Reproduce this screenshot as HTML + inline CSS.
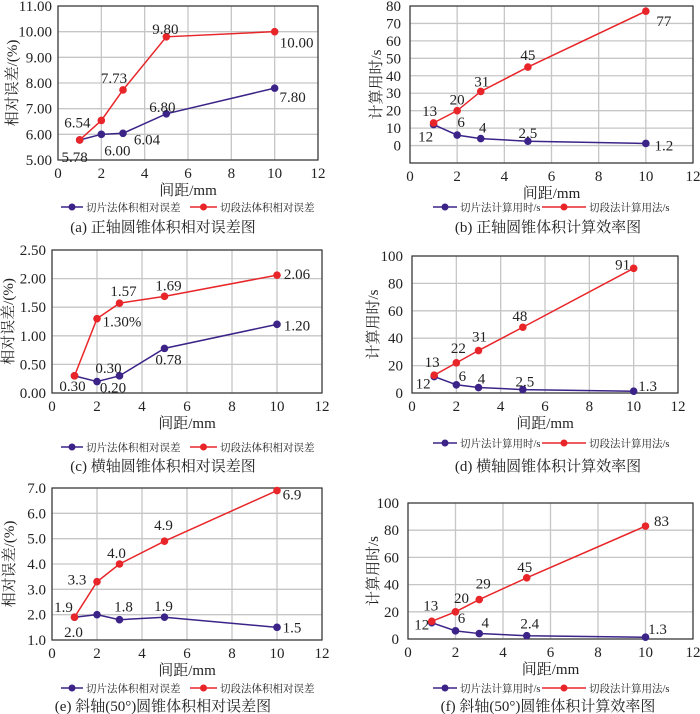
<!DOCTYPE html>
<html><head><meta charset="utf-8"><style>
body{margin:0;background:#fff}
svg{display:block}
text{font-family:"Liberation Serif","Noto Serif CJK SC",serif;fill:#222}
</style></head><body>
<svg id="s" width="700" height="714" viewBox="0 0 700 714" xmlns="http://www.w3.org/2000/svg"></svg>
<script>
const xVals=[1,2,3,5,10];
const xTicks=[0,2,4,6,8,10,12];
const aBlue=[5.78,6.00,6.04,6.80,7.80], aRed=[5.78,6.54,7.73,9.80,10.00];
const aBlueLbl=["5.78","6.00","6.04","6.80","7.80"], aRedLbl=["","6.54","7.73","9.80","10.00"];
const aTicks=[5,6,7,8,9,10,11];
const bBlue=[12,6,4,2.5,1.2], bRed=[13,20,31,45,77];
const bBlueLbl=["12","6","4","2.5","1.2"], bRedLbl=["13","20","31","45","77"];
const bTicks=[-10,0,10,20,30,40,50,60,70,80];
const cBlue=[0.30,0.20,0.30,0.78,1.20], cRed=[0.30,1.30,1.57,1.69,2.06];
const cBlueLbl=["0.30","0.20","0.30","0.78","1.20"], cRedLbl=["","1.30%","1.57","1.69","2.06"];
const cTicks=[0,0.5,1,1.5,2,2.5];
const dBlue=[12,6,4,2.5,1.3], dRed=[13,22,31,48,91];
const dBlueLbl=["12","6","4","2.5","1.3"], dRedLbl=["13","22","31","48","91"];
const dTicks=[0,20,40,60,80,100];
const eBlue=[1.9,2.0,1.8,1.9,1.5], eRed=[1.9,3.3,4.0,4.9,6.9];
const eBlueLbl=["1.9","","1.8","1.9","1.5"], eRedLbl=["2.0","3.3","4.0","4.9","6.9"];
const eTicks=[1,2,3,4,5,6,7];
const fBlue=[12,6,4,2.4,1.3], fRed=[13,20,29,45,83];
const fBlueLbl=["12","6","4","2.4","1.3"], fRedLbl=["13","20","29","45","83"];
const fTicks=[0,20,40,60,80,100];

const NS="http://www.w3.org/2000/svg", S=document.getElementById('s');
function el(t,a,p,txt){const e=document.createElementNS(NS,t);for(const k in a)e.setAttribute(k,a[k]);if(txt!==undefined)e.textContent=txt;(p||S).appendChild(e);return e;}
const BLUE="#3b2388", RED="#e8262a";

function chart(c){
  const g=el('g',{});
  
  
  const sx=v=>c.l+(v-0)/12*(c.r-c.l);
  const ymin=c.ticks[0], ymax=c.ticks[c.ticks.length-1];
  const sy=v=>c.b-(v-ymin)/(ymax-ymin)*(c.b-c.t);
  xTicks.forEach(v=>{
    el('line',{x1:sx(v),x2:sx(v),y1:c.t,y2:c.b,stroke:'#c6c6c6','stroke-width':1.3},g);
    const t=el('text',{x:sx(v),y:c.b+18,'text-anchor':'middle','font-size':15},g,String(v));
    
    
  });
  c.ticks.forEach((v,i)=>{
    el('line',{x1:c.l,x2:c.r,y1:sy(v),y2:sy(v),stroke:'#c6c6c6','stroke-width':1.3},g);
    if(c.hideFirst&&i===0)return;
    const t=el('text',{x:c.l-c.tg,y:sy(v)+5,'text-anchor':'end','font-size':15},g,v.toFixed(c.dec));
    
    
  });
  el('rect',{x:c.l,y:c.t,width:c.r-c.l,height:c.b-c.t,fill:'none',stroke:'#333','stroke-width':1.2},g);
  const yt=el('text',{x:0,y:0,'text-anchor':'middle','font-size':15,transform:`translate(${c.ylx},${(c.t+c.b)/2}) rotate(-90)`},g,c.ytitle);
  
  
  const xt=el('text',{x:(c.l+c.r)/2,y:c.b+35,'text-anchor':'middle','font-size':15},g,'间距/mm');
  
  
  [[c.blue,BLUE,c.blueLbl,c.bOff,'blue'],[c.red,RED,c.redLbl,c.rOff,'red']].forEach(([d,col,lb,off,nm])=>{
    const pl=el('polyline',{points:d.map((v,i)=>sx(xVals[i])+','+sy(v)).join(' '),fill:'none',stroke:col,'stroke-width':1.5},g);
    
    
    d.forEach((v,i)=>{
      const p=el('circle',{cx:sx(xVals[i]),cy:sy(v),r:3.8,fill:col},g);
      
      
      if(lb[i]){const t=el('text',{x:sx(xVals[i])+off[i][0],y:sy(v)+off[i][1],'text-anchor':'middle','font-size':15},g,lb[i]);
      
      }
    });
  });
  const ly=c.ly;
  [[BLUE,c.leg[0],c.lg[0]],[RED,c.leg[1],c.lg[1]]].forEach(([col,txt,pos])=>{
    const lg=el('g',{},g);
    
    
    el('line',{x1:pos[0],x2:pos[0]+pos[1],y1:ly,y2:ly,stroke:col,'stroke-width':1.5},lg);
    el('circle',{cx:pos[0]+pos[1]/2,cy:ly,r:3.5,fill:col},lg);
    el('text',{x:pos[0]+pos[1]+3,y:ly+4,'font-size':10.5},lg,txt);
  });
  const cap=el('text',{x:c.capx,y:c.capy,'text-anchor':'middle','font-size':15},g,c.cap);
  
  
}
const legL=['切片法体积相对误差','切段法体积相对误差'], legR=['切片法计算用时/s','切段法计算用法/s'];
const lgL=[[61,22],[190,27]], lgR=[[433,24],[542,44]];
chart({name:'chart-a',l:58,r:318,t:6,b:160,ticks:aTicks,dec:2,tg:6,blue:aBlue,red:aRed,blueLbl:aBlueLbl,redLbl:aRedLbl,
 bOff:[[-5,22],[16,21],[24,11],[-4,-2],[18,14]],rOff:[[0,0],[-24,7],[-9,-7],[-1,-3],[22,16]],
 ylx:17,ytitle:'相对误差/(%)',ly:207,lg:lgL,leg:legL,capx:163,capy:232,cap:'(a) 正轴圆锥体积相对误差图'});
chart({name:'chart-b',l:410,r:693,t:6,b:163,ticks:bTicks,dec:0,tg:9,hideFirst:true,blue:bBlue,red:bRed,blueLbl:bBlueLbl,redLbl:bRedLbl,
 bOff:[[-8,17],[4,-8],[2,-6],[0,-3],[18,7]],rOff:[[-4,-7],[0,-6],[1,-5],[0,-7],[18,15]],
 ylx:381,ytitle:'计算用时/s',ly:207,lg:lgR,leg:legR,capx:548,capy:232,cap:'(b) 正轴圆锥体积计算效率图'});
chart({name:'chart-c',l:52,r:322,t:250,b:393,ticks:cTicks,dec:2,tg:6,blue:cBlue,red:cRed,blueLbl:cBlueLbl,redLbl:cRedLbl,
 bOff:[[-2,15],[16,11],[-11,-3],[4,16],[20,6]],rOff:[[0,0],[25,8],[4,-7],[4,-6],[20,4]],
 ylx:13,ytitle:'相对误差/(%)',ly:447,lg:lgL,leg:legL,capx:163,capy:471,cap:'(c) 横轴圆锥体积相对误差图'});
chart({name:'chart-d',l:412,r:678,t:256,b:393,ticks:dTicks,dec:0,tg:9,blue:dBlue,red:dRed,blueLbl:dBlueLbl,redLbl:dRedLbl,
 bOff:[[-11,12],[6,-4],[3,-4],[2,-3],[14,0]],rOff:[[-2,-8],[2,-10],[1,-9],[-3,-6],[-11,1]],
 ylx:378,ytitle:'计算用时/s',ly:443,lg:lgR,leg:legR,capx:548,capy:471,cap:'(d) 横轴圆锥体积计算效率图'});
chart({name:'chart-e',l:52,r:322,t:488,b:640,ticks:eTicks,dec:1,tg:6,blue:eBlue,red:eRed,blueLbl:eBlueLbl,redLbl:eRedLbl,
 bOff:[[-11,-5],[0,0],[4,-8],[-1,-6],[15,5]],rOff:[[-1,20],[-20,3],[-3,-6],[-1,-11],[15,9]],
 ylx:14,ytitle:'相对误差/(%)',ly:688,lg:lgL,leg:legL,capx:163,capy:711,cap:'(e) 斜轴(50°)圆锥体积相对误差图'});
chart({name:'chart-f',l:408,r:693,t:503,b:639,ticks:fTicks,dec:0,tg:9,blue:fBlue,red:fRed,blueLbl:fBlueLbl,redLbl:fRedLbl,
 bOff:[[-10,7],[6,-8],[6,-6],[3,-7],[12,-3]],rOff:[[-1,-11],[6,-9],[4,-11],[-2,-6],[16,0]],
 ylx:378,ytitle:'计算用时/s',ly:688,lg:lgR,leg:legR,capx:548,capy:711,cap:'(f) 斜轴(50°)圆锥体积计算效率图'});
</script>
</body></html>
